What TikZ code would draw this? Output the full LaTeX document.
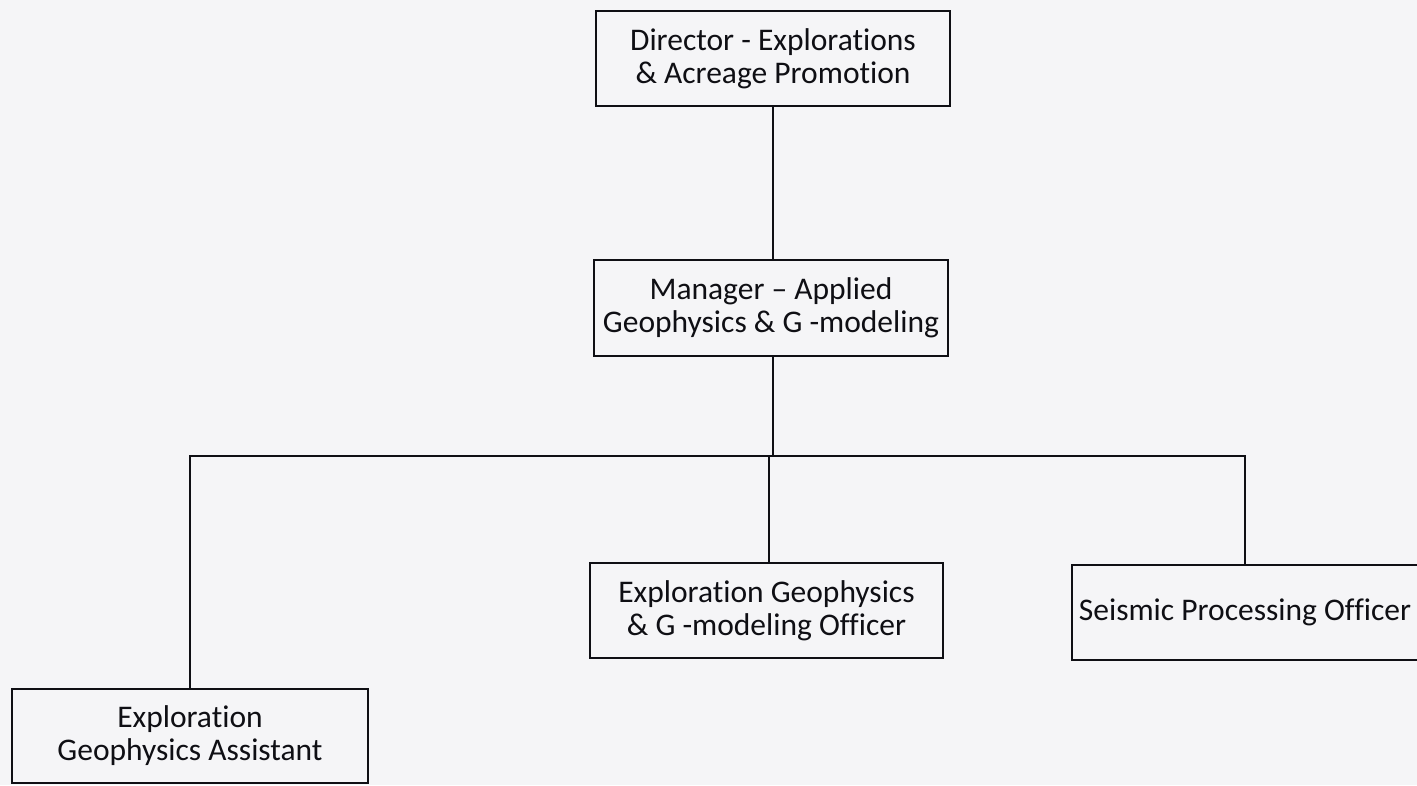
\documentclass[tikz,border=0pt]{standalone}
\usepackage{fontspec}
\setmainfont{Carlito}[RawFeature=-liga]
\definecolor{paper}{RGB}{245,245,247}
\definecolor{ink}{RGB}{15,15,20}
\begin{document}
\begin{tikzpicture}[x=1pt,y=-1pt,
  box/.style={draw=ink,line width=2pt,rectangle,inner sep=0pt,align=center,
    font=\fontsize{31.5}{33}\selectfont,text=ink},
  link/.style={draw=ink,line width=1.8pt}]
\fill[paper] (0,0) rectangle (1417,785);
\useasboundingbox (0,0) rectangle (1417,785);
\node[box,minimum width=354pt,minimum height=95pt] (d) at (773,58.5) {Director - Explorations\\\& Acreage Promotion};
\node[box,minimum width=354pt,minimum height=96pt] (m) at (771,308) {Manager -- Applied\\Geophysics \& G -modeling};
\node[box,minimum width=353pt,minimum height=95pt] (e) at (766.5,610.5) {Exploration Geophysics\\\& G -modeling Officer};
\node[box,minimum width=346pt,minimum height=95pt] (s) at (1245,612.5) {Seismic Processing Officer};
\node[box,minimum width=356pt,minimum height=94pt] (a) at (190,736) {Exploration\\Geophysics Assistant};
\coordinate (top) at (773,0);
\coordinate (mid) at (769,0);
\coordinate (bus) at (773,456);
\coordinate (busL) at (a.north |- bus);
\coordinate (busR) at (s.north |- bus);
\draw[link] (top |- d.south) -- (top |- m.north);
\draw[link] (top |- m.south) -- (bus);
\draw[link] (a.north) -- (busL) -- (busR) -- (s.north);
\draw[link] (mid |- bus) -- (mid |- e.north);
\end{tikzpicture}
\end{document}
